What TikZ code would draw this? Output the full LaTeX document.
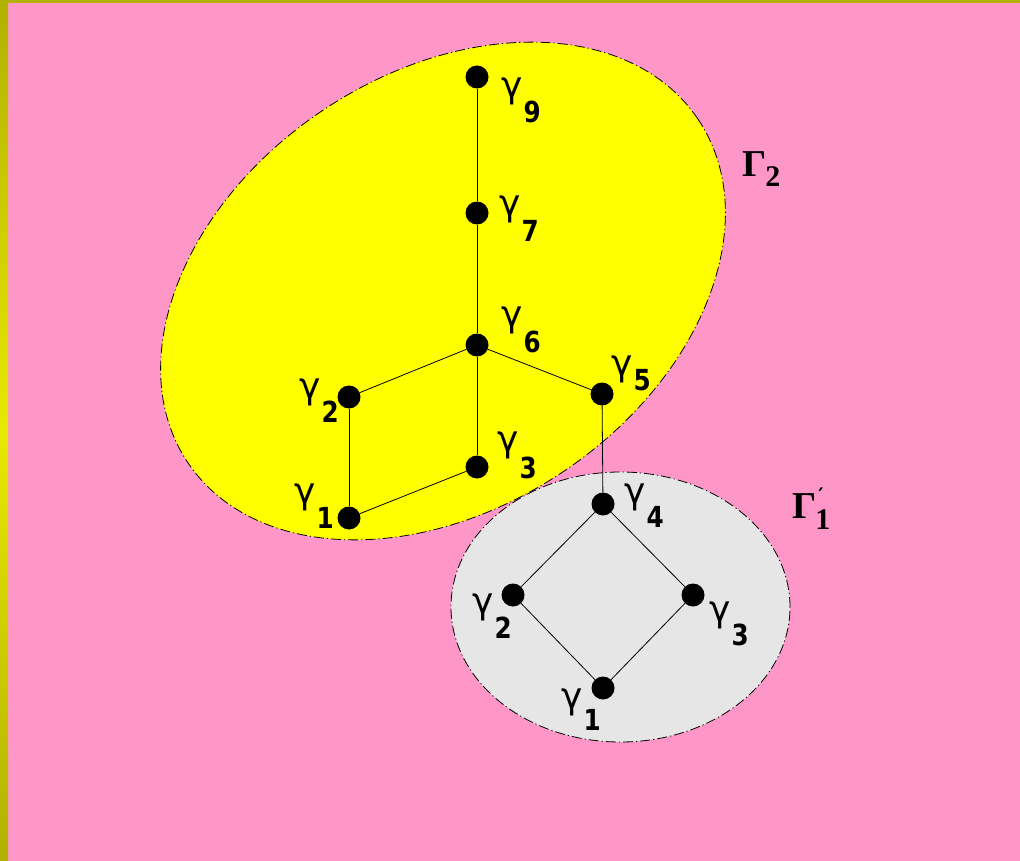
\documentclass[tikz,border=0pt]{standalone}
\usepackage{fontspec}
\newfontfamily\gfont{DejaVu Sans}
\newfontfamily\dfont{DejaVu Sans}[FakeStretch=0.85]
\newfontfamily\Gfont{Liberation Serif}
\definecolor{pinkbg}{RGB}{255,150,200}
\definecolor{yel}{RGB}{255,255,0}
\definecolor{grayfill}{RGB}{230,230,230}
\definecolor{oliveA}{RGB}{178,176,0}
\definecolor{oliveB}{RGB}{232,232,0}
\newcommand\glab[2]{\gfont\fontsize{36}{36}\selectfont γ\kern1pt\raisebox{#2pt}{\dfont\fontsize{29}{29}\selectfont\bfseries #1}}
\tikzset{
  dot/.style={circle,fill=black,minimum size=23pt,inner sep=0pt},
  lab/.style={anchor=base west,inner sep=0pt},
  edge/.style={black,line width=0.8pt},
  bord/.style={black,line width=0.8pt,dash pattern=on 10pt off 3pt on 1.2pt off 3pt}
}
\begin{document}
\begin{tikzpicture}[x=1pt,y=-1pt]
\useasboundingbox (0,0) rectangle (1020,861);
\fill[pinkbg] (0,0) rectangle (1020,861);
\fill[oliveA] (0,0) rectangle (1020,3);
\shade[top color=oliveA,bottom color=oliveA,middle color=oliveB] (0,0) rectangle (8,861);
% regions
\draw[bord,fill=yel,rotate around={34:(443,291)}] (443,291) ellipse [x radius=307.5pt,y radius=217pt];
\draw[bord,fill=grayfill] (620.5,607) ellipse [x radius=169.5pt,y radius=135pt];
% vertices
\node[dot] (a9) at (477,77) {};
\node[dot] (a7) at (477,213) {};
\node[dot] (a6) at (477,345) {};
\node[dot] (a2) at (349,397) {};
\node[dot] (a5) at (602,394) {};
\node[dot] (a3) at (477,467) {};
\node[dot] (a1) at (349,518) {};
\node[dot] (b4) at (603,504) {};
\node[dot] (b2) at (513,595) {};
\node[dot] (b3) at (693,595) {};
\node[dot] (b1) at (603,688) {};
% edges
\draw[edge] (a9) -- (a7);
\draw[edge] (a7) -- (a6);
\draw[edge] (a6) -- (a2);
\draw[edge] (a6) -- (a5);
\draw[edge] (a6) -- (a3);
\draw[edge] (a2) -- (a1);
\draw[edge] (a1) -- (a3);
\draw[edge] (a5) -- (b4);
\draw[edge] (b4) -- (b2);
\draw[edge] (b4) -- (b3);
\draw[edge] (b2) -- (b1);
\draw[edge] (b3) -- (b1);
% labels
\node[lab] (l9) at (501,98) {\glab{9}{-25}};
\node[lab] (l7) at (499,216) {\glab{7}{-26}};
\node[lab] (l6) at (501,326) {\glab{6}{-26}};
\node[lab] (l5) at (611,375) {\glab{5}{-15}};
\node[lab] (l3) at (497,451) {\glab{3}{-27}};
\node[lab] (l2) at (299,398) {\glab{2}{-24}};
\node[lab] (l1) at (294,503) {\glab{1}{-25}};
\node[lab] (m4) at (624,503) {\glab{4}{-24}};
\node[lab] (m2) at (472,613) {\glab{2}{-25}};
\node[lab] (m3) at (709,621) {\glab{3}{-24}};
\node[lab] (m1) at (561,708) {\glab{1}{-22}};
\node[lab] (G2) at (742,177) {\Gfont\fontsize{38}{38}\selectfont\bfseries Γ\kern-1pt\raisebox{-10pt}{\fontsize{30}{30}\selectfont 2}};
\node[lab] (G1) at (792,518) {\Gfont\fontsize{38}{38}\selectfont\bfseries Γ\kern-1pt\rlap{\kern3pt\raisebox{16pt}{\gfont\fontsize{20}{20}\selectfont\bfseries ′}}\raisebox{-11pt}{\fontsize{30}{30}\selectfont 1}};
\end{tikzpicture}
\end{document}
